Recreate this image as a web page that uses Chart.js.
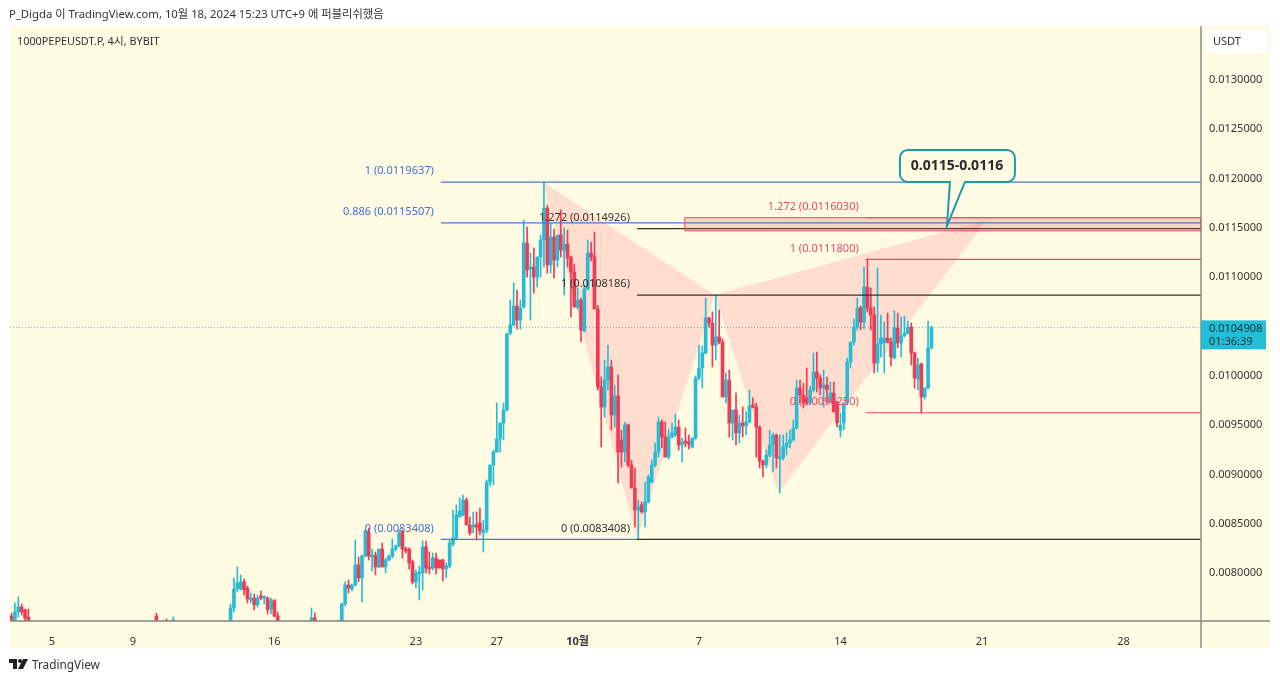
<!DOCTYPE html>
<html>
<head>
<meta charset="utf-8">
<title>1000PEPEUSDT.P</title>
<script src="https://cdn.jsdelivr.net/npm/chart.js@4/dist/chart.umd.js"></script>
<style>
    html, body { margin: 0; padding: 0; background: #fff; overflow: hidden; }
    #wrap { position: relative; width: 1280px; height: 681px; }
    canvas { position: absolute; left: 0; top: 0; }
    .txt { position: absolute; font-family: "Noto Sans", "Noto Sans CJK KR", sans-serif; color: #333; white-space: nowrap; }
    #head { left: 9px; top: 5px; font-size: 11.3px; }
    #symbol { left: 17px; top: 32px; font-size: 10.85px; z-index: 2; }
    #brand { left: 32px; top: 656px; font-size: 11.8px; }
    #logo { position: absolute; left: 9px; top: 658px; }
</style>
</head>
<body>
<div id="wrap">
    <canvas id="priceChart" width="1280" height="681"></canvas>
    <div class="txt" id="head">P_Digda 이 TradingView.com, 10월 18, 2024 15:23 UTC+9 에 퍼블리쉬했음</div>
    <div class="txt" id="symbol">1000PEPEUSDT.P, 4시, BYBIT</div>
    <svg id="logo" width="19" height="12" viewBox="0 0 19 12"><path fill="#222" d="M0 1h8v10H4V5H0z"/><circle fill="#222" cx="11" cy="3" r="2"/><path fill="#222" d="M14 1h5l-5 10H9z"/></svg>
    <div class="txt" id="brand">TradingView</div>
</div>
<script>
// Prices are in millionths of USDT, one slot per 4h candle (null = candle below the visible range)
const opens = [
    7564,7503,7605,7655,7625,7554,null,null,null,null,
    null,null,null,null,null,null,null,null,null,null,
    null,null,null,null,null,null,null,null,null,null,
    null,null,null,null,null,null,null,null,null,null,
    null,null,null,7564,null,null,7513,null,7473,null,
    null,null,null,null,null,null,null,null,null,null,
    null,null,null,null,null,7503,7645,7838,7838,7909,
    7848,7726,7746,7676,7757,7746,7746,7635,7726,7564,
    null,null,null,null,null,null,null,null,null,7493,
    7544,null,null,null,null,null,null,7473,7513,7686,
    7878,7838,7878,8081,7949,8172,8416,8162,8182,8061,
    8243,8061,8132,8172,8243,8274,8416,8243,8243,8112,
    7909,7990,8000,8264,8051,8051,8152,8132,8132,8041,
    8071,8294,8355,8568,8588,8740,8487,8466,8487,8507,
    8406,8436,8923,9095,9227,9359,9521,9653,10434,10515,
    10707,10565,10697,11346,11083,11103,11001,11204,11377,11701,
    11123,11407,11174,11427,11275,11336,11204,11052,10697,10768,
    10454,10880,11245,11204,10677,9886,9683,9957,10089,9602,
    9795,9349,9227,9501,9095,8862,8639,8690,8619,8720,
    8923,9095,9227,9531,9379,9176,9379,9399,9480,9298,
    9328,9318,9277,9369,9977,10079,10231,10586,10535,10312,
    10393,10342,9785,9957,9521,9653,9420,9521,9491,9531,
    9704,9683,9480,9136,9095,9196,9298,9399,9156,9166,
    9278,9318,9349,9470,9876,9805,9775,9724,9856,10038,
    9977,9876,9906,9734,9825,9734,9450,9521,9724,10140,
    10342,10494,10687,10545,10900,10687,10616,10130,10322,10332,
    10383,10342,10180,10484,10332,10403,10433,10494,10231,9967,
    10119,9785,9876,10282
];
const highs = [
    7594,7696,7757,7686,7635,7635,null,null,null,null,
    null,null,null,null,null,null,null,null,null,null,
    null,null,null,null,null,null,null,null,null,null,
    null,null,null,null,null,null,null,null,null,null,
    null,null,null,7594,null,null,7534,null,7554,null,
    null,null,null,null,null,null,null,null,null,null,
    null,null,null,null,null,7686,7949,8061,7980,7939,
    7868,7797,7787,7777,7817,7767,7757,7746,7726,7605,
    null,null,null,null,null,null,null,null,null,7645,
    7594,null,null,null,null,null,null,7523,7696,7909,
    7929,7888,8335,8162,8182,8436,8456,8243,8213,8243,
    8304,8152,8182,8345,8284,8436,8436,8264,8254,8132,
    8030,8071,8324,8324,8213,8203,8203,8132,8142,8101,
    8335,8639,8690,8761,8791,8761,8568,8619,8619,8659,
    8537,8943,9095,9247,9724,9521,9724,10434,10768,10941,
    10870,10768,11579,11508,11245,11296,11204,11427,11965,11732,
    11548,11488,11427,11681,11498,11478,11214,11133,10890,10788,
    10920,11377,11356,11458,10717,9987,10160,10312,10160,9906,
    10008,9450,9531,9511,9146,9065,8740,8720,8923,8994,
    9146,9318,9582,9552,9531,9460,9521,9612,9551,9369,
    9470,9399,9369,9998,10312,10302,10788,10596,10647,10819,
    10667,10373,10028,10058,9653,9825,9602,9683,9633,9856,
    9775,9724,9491,9146,9247,9450,9420,9409,9399,9399,
    9420,9450,9551,9957,9957,9926,10079,9896,10231,10241,
    10008,10058,9987,9937,9937,9744,9622,9724,10180,10342,
    10576,10789,10707,11103,11184,10890,10697,11093,10616,10545,
    10636,10383,10657,10636,10596,10606,10555,10535,10241,10180,
    10130,9876,10555,10505
];
const lows = [
    7473,7483,7554,7574,7503,7483,null,null,null,null,
    null,null,null,null,null,null,null,null,null,null,
    null,null,null,null,null,null,null,null,null,null,
    null,null,null,null,null,null,null,null,null,null,
    null,null,null,7463,null,null,7463,null,7463,null,
    null,null,null,null,null,null,null,null,null,null,
    null,null,null,null,null,7493,7605,7807,7828,7777,
    7696,7696,7625,7655,7726,7686,7584,7584,7554,7473,
    null,null,null,null,null,null,null,null,null,7473,
    7473,null,null,null,null,null,null,7463,7473,7665,
    7797,7817,7868,7909,7706,8162,8132,8020,7980,8051,
    8061,8000,8122,8152,8223,8264,8152,8203,8041,7888,
    7848,7726,7828,8000,7990,8030,7990,8051,7919,7949,
    8051,8274,8335,8568,8578,8487,8385,8406,8335,8385,
    8213,8406,8882,8892,9227,9227,9349,9643,10413,10505,
    10474,10474,10687,11001,10565,10839,10900,11001,11103,11042,
    11042,10991,11103,11204,10819,11103,10596,10697,10677,10342,
    10444,10870,11164,10677,9856,9278,9582,9856,9450,9480,
    8913,9075,9126,9075,8862,8466,8345,8608,8466,8710,
    8913,9075,9176,9268,9176,9156,9369,9379,9247,9126,
    9278,9257,9268,9349,9957,9876,10221,10494,10089,10160,
    10322,9785,9724,9379,9349,9298,9318,9379,9399,9521,
    9673,9176,9065,8973,9065,9176,9024,9065,8811,9146,
    9197,9268,9338,9460,9724,9673,9704,9704,9835,9835,
    9805,9683,9724,9724,9633,9480,9379,9450,9704,10079,
    10312,10464,10464,10474,10646,10464,10028,10038,10190,10028,
    10332,10099,10170,10282,10190,10393,10423,10109,9876,9856,
    9622,9764,9866,10271
];
const closes = [
    7493,7605,7655,7605,7544,7503,null,null,null,null,
    null,null,null,null,null,null,null,null,null,null,
    null,null,null,null,null,null,null,null,null,null,
    null,null,null,null,null,null,null,null,null,null,
    null,null,null,7473,null,null,7473,null,7523,null,
    null,null,null,null,null,null,null,null,null,null,
    null,null,null,null,null,7645,7838,7899,7909,7828,
    7736,7746,7676,7746,7746,7757,7625,7716,7564,7503,
    null,null,null,null,null,null,null,null,null,7544,
    7493,null,null,null,null,null,null,7513,7686,7878,
    7848,7878,8081,7949,8172,8426,8172,8182,8061,8243,
    8061,8132,8172,8243,8274,8406,8243,8223,8101,7909,
    8000,8000,8264,8051,8041,8152,8051,8051,8041,8071,
    8304,8355,8588,8629,8740,8487,8406,8487,8466,8426,
    8436,8923,9095,9227,9359,9521,9653,10423,10515,10707,
    10565,10687,11346,11072,11103,11001,11204,11377,11701,11123,
    11407,11174,11427,11275,11336,11194,11052,10697,10768,10464,
    10880,11245,11204,10677,9886,9683,9957,10089,9602,9795,
    9227,9227,9501,9095,8862,8639,8669,8619,8720,8973,
    9095,9227,9531,9379,9176,9379,9420,9480,9298,9328,
    9318,9308,9369,9977,10079,10231,10586,10535,10312,10393,
    10342,9785,9957,9521,9653,9420,9521,9491,9531,9693,
    9683,9480,9136,9095,9196,9298,9399,9166,9176,9278,
    9318,9349,9470,9876,9805,9724,9724,9856,10038,9977,
    9876,9906,9856,9825,9633,9521,9501,9724,10140,10342,
    10494,10687,10545,10900,10687,10616,10130,10322,10383,10383,
    10342,10190,10484,10332,10403,10433,10494,10231,9977,10109,
    9785,9876,10282,10491
];

// Axes
const tickSlots = [12, 36, 78, 120, 144, 168, 204, 246, 288, 330];
const tickLabels = ['5', '9', '16', '23', '27', '10월', '7', '14', '21', '28'];
const priceTicks = [8000, 8500, 9000, 9500, 10000, 10500, 11000, 11500, 12000, 12500, 13000];
const slotMin = -0.46, slotMax = 353;
const priceMin = 7513, priceMax = 13547;
const lastPrice = 10490.8;

// Harmonic pattern shading (slot, price)
const legOneSlots = [157.7, 208.7, 185.6];
const legOnePrices = [11964, 10819, 8341];
const legTwoSlots = [208.7, 289.4, 227.6];
const legTwoPrices = [10819, 11579, 8811];

// Fib levels
const levelPrices = [11963.7, 11550.7, 8340.8, 11492.6, 10818.6, 8340.8, 11603, 11180, 9625];
const levelStarts = [127.4, 127.4, 127.4, 185.6, 185.6, 185.6, 253.5, 253.5, 253.5];
const levelEnds = [353, 353, 185.6, 353, 353, 353, 353, 353, 353];
const levelNames = ['1 (0.0119637)', '0.886 (0.0115507)', '0 (0.0083408)', '1.272 (0.0114926)', '1 (0.0108186)', '0 (0.0083408)', '1.272 (0.0116030)', '1 (0.0111800)', '0 (0.0096250)'];
const levelGroups = ['blue', 'blue', 'blue', 'black', 'black', 'black', 'red', 'red', 'red'];
const groupColors = { blue: '#4a78d6', black: '#33332f', red: '#ee4a60' };

// Target box and callout
const boxSlots = [199.8, 353, 353, 199.8, 199.8];
const boxPrices = [11603, 11603, 11470, 11470, 11603];
const calloutText = '0.0115-0.0116';
const calloutSlot = 277.6, calloutPrice = 11519;

const teal = '#28bcd4', red = '#ee3b56', cream = '#fffbe3';

function isUp(i) {
    return closes[i] >= opens[i];
}

const wicks = [], bodies = [];
opens.forEach((o, i) => {
    if (o === null) return;
    wicks.push({ x: i, y: [lows[i], highs[i]], up: isUp(i) });
    bodies.push({ x: i, y: [o, closes[i]], up: isUp(i) });
});

const datasets = [
    {
        type: 'line', data: legOneSlots.map((s, i) => ({ x: s, y: legOnePrices[i] })),
        fill: 'shape', backgroundColor: '#ffdecf', borderWidth: 0, pointRadius: 0, order: 6, tension: 0
    },
    {
        type: 'line', data: legTwoSlots.map((s, i) => ({ x: s, y: legTwoPrices[i] })),
        fill: 'shape', backgroundColor: '#ffdecf', borderWidth: 0, pointRadius: 0, order: 6, tension: 0
    },
    {
        type: 'line', data: boxSlots.map((s, i) => ({ x: s, y: boxPrices[i] })),
        fill: 'shape', backgroundColor: 'rgba(238,59,86,0.2)', borderColor: '#ee4a60', borderWidth: 1, pointRadius: 0, order: 1, tension: 0
    },
    {
        type: 'line', data: [{ x: slotMin, y: lastPrice }, { x: slotMax, y: lastPrice }],
        borderColor: '#55c5b5', borderWidth: 1, borderDash: [1, 2], pointRadius: 0, order: 5
    },
    {
        type: 'bar', data: wicks, grouped: false, barThickness: 1, minBarLength: 1,
        backgroundColor: c => (c.raw && c.raw.up ? teal : red), order: 3
    },
    {
        type: 'bar', data: bodies, grouped: false, barThickness: 3, minBarLength: 2,
        backgroundColor: c => (c.raw && c.raw.up ? teal : red), order: 2
    }
];

levelPrices.forEach((p, i) => {
    datasets.push({
        type: 'line',
        data: [{ x: levelStarts[i], y: p }, { x: levelEnds[i], y: p }],
        borderColor: groupColors[levelGroups[i]], borderWidth: 1.2, pointRadius: 0, order: 1
    });
});

// Panel background, axis lines and the text that sits on top of the chart
const overlay = {
    id: 'overlay',
    beforeDraw(chart) {
        const c = chart.ctx;
        c.save();
        c.fillStyle = cream;
        c.fillRect(10, 26, 1260, 622);
        c.restore();
    },
    afterDraw(chart) {
        const c = chart.ctx, x = chart.scales.x, y = chart.scales.y, area = chart.chartArea;
        c.save();

        // axis lines
        c.strokeStyle = '#85857b';
        c.lineWidth = 1.4;
        c.beginPath();
        c.moveTo(area.left, area.bottom);
        c.lineTo(1270, area.bottom);
        c.moveTo(area.right, area.top);
        c.lineTo(area.right, 648);
        c.stroke();

        // level labels
        c.font = '11px "Noto Sans"';
        c.textAlign = 'right';
        c.textBaseline = 'middle';
        levelNames.forEach((name, i) => {
            c.fillStyle = levelGroups[i] === 'blue' ? '#3f6fd8' : groupColors[levelGroups[i]];
            c.fillText(name, x.getPixelForValue(levelStarts[i]) - 7, y.getPixelForValue(levelPrices[i]) - 11);
        });

        // callout
        const tipX = x.getPixelForValue(calloutSlot), tipY = y.getPixelForValue(calloutPrice);
        c.fillStyle = cream;
        c.strokeStyle = '#1f9aa8';
        c.lineWidth = 2;
        c.beginPath();
        c.roundRect(tipX - 47, tipY - 76, 115, 32, 8);
        c.fill();
        c.stroke();
        c.beginPath();
        c.moveTo(tipX + 3, tipY - 44);
        c.lineTo(tipX, tipY);
        c.lineTo(tipX + 18, tipY - 44);
        c.fill();
        c.stroke();
        c.fillStyle = cream;
        c.fillRect(tipX + 4, tipY - 46, 13, 3);
        c.fillStyle = '#2a2a2a';
        c.font = 'bold 14px "Noto Sans"';
        c.textAlign = 'center';
        c.fillText(calloutText, tipX + 10, tipY - 60);

        // currency box
        c.fillStyle = '#fff';
        c.beginPath();
        c.roundRect(1205, 30, 62, 23, 3);
        c.fill();
        c.fillStyle = '#333';
        c.font = '11px "Noto Sans"';
        c.textAlign = 'left';
        c.fillText('USDT', 1213, 42);

        // last price tag
        const tagY = y.getPixelForValue(lastPrice);
        c.fillStyle = '#22bdd6';
        c.fillRect(area.right, tagY - 7, 65, 29);
        c.fillStyle = '#17323a';
        c.fillText((lastPrice / 1e6).toFixed(7), 1209, tagY + 1);
        c.fillText('01:36:39', 1209, tagY + 14);
        c.restore();
    }
};

const ctx = document.getElementById('priceChart').getContext('2d');
const priceChart = new Chart(ctx, {
    type: 'bar',
    data: { datasets: datasets },
    options: {
        responsive: false,
        animation: false,
        layout: { padding: { left: 10, top: 26, right: 10, bottom: 33 } },
        plugins: { legend: { display: false }, tooltip: { enabled: false } },
        scales: {
            x: {
                type: 'linear',
                min: slotMin,
                max: slotMax,
                offset: false,
                grid: { display: false },
                border: { display: false },
                afterBuildTicks: axis => { axis.ticks = tickSlots.map(v => ({ value: v })); },
                afterFit: axis => { axis.height = 27; },
                ticks: {
                    autoSkip: false,
                    maxRotation: 0,
                    padding: 6,
                    color: '#333',
                    font: c => ({ family: '"Noto Sans", "Noto Sans CJK KR"', size: 11, weight: c.index === 5 ? 'bold' : 'normal' }),
                    callback: (v, i) => tickLabels[i]
                }
            },
            y: {
                position: 'right',
                min: priceMin,
                max: priceMax,
                grid: { display: false },
                border: { display: false },
                afterBuildTicks: axis => { axis.ticks = priceTicks.map(v => ({ value: v })); },
                afterFit: axis => { axis.width = 69; },
                ticks: {
                    padding: 0,
                    color: '#333',
                    font: { family: '"Noto Sans"', size: 11 },
                    callback: v => (v / 1e6).toFixed(7)
                }
            }
        }
    },
    plugins: [overlay]
});
</script>
</body>
</html>
